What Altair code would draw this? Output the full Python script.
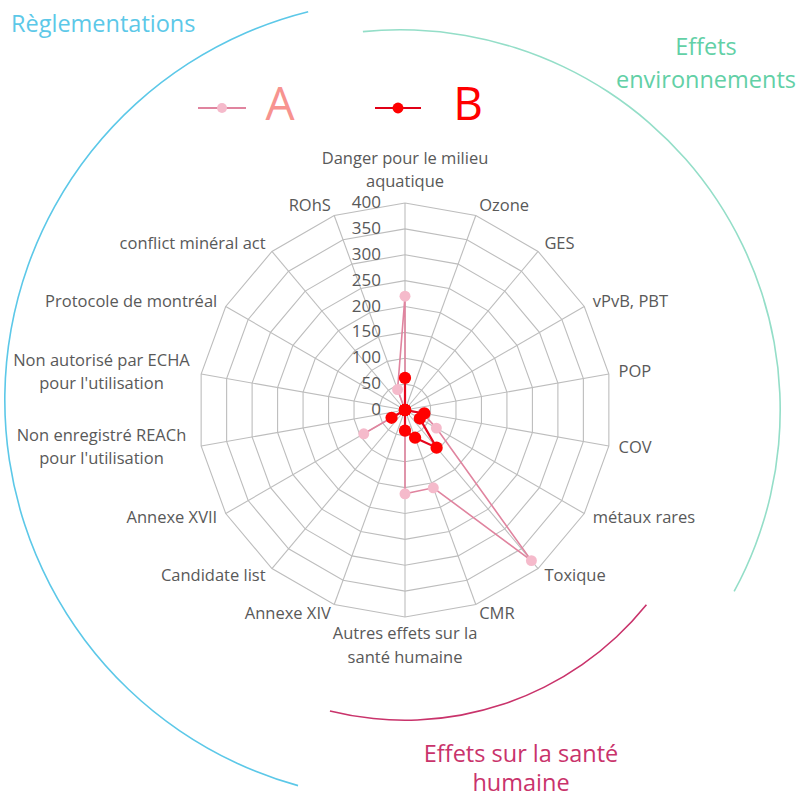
import math
import altair as alt
import pandas as pd

# Axes of the radar, clockwise from the top
categories = [
    "Danger pour le milieu\naquatique", "Ozone", "GES", "vPvB, PBT", "POP", "COV",
    "métaux rares", "Toxique", "CMR", "Autres effets sur la\nsanté humaine",
    "Annexe XIV", "Candidate list", "Annexe XVII",
    "Non enregistré REACh\npour l'utilisation", "Non autorisé par ECHA\npour l'utilisation",
    "Protocole de montréal", "conflict minéral act", "ROhS",
]
values_a = [220, 0, 0, 0, 0, 35, 70, 380, 160, 162, 0, 0, 92, 0, 0, 0, 0, 42]
values_b = [62, 0, 0, 0, 0, 38, 33, 95, 57, 40, 0, 0, 30, 0, 0, 0, 0, 0]
series_names = ["A", "B"]
ring_levels = [50, 100, 150, 200, 250, 300, 350, 400]
tick_values = [0, 50, 100, 150, 200, 250, 300, 350, 400]
tick_labels = ["0", "50", "100", "150", "200", "250", "300", "350", "400"]
group_titles = ["Règlementations", "Effets\nenvironnements", "Effets sur la santé\nhumaine"]

N = len(categories)
W, H = 800, 799
CX, CY = 405, 410          # pixel centre of the radar
RPX = 207                  # pixel radius of the 400 ring
K = RPX / 400.0
XDOM = [-CX / K, (W - CX) / K]
YDOM = [-(H - CY) / K, CY / K]

FONT = "Open Sans"
GREY = "#595959"
GRID = "#BDBDBD"
PINK_LINE, PINK_DOT = "#E0849F", "#F5BACB"
RED_LINE, RED_DOT = "#E5061E", "#FF0000"
LAB_SIZE, LAB_LH = 16.5, 23
TITLE_SIZE = 23.5

xs = alt.Scale(domain=XDOM, nice=False, zero=False)
ys = alt.Scale(domain=YDOM, nice=False, zero=False)
X = lambda f: alt.X(f, type="quantitative", scale=xs, axis=None)
Y = lambda f: alt.Y(f, type="quantitative", scale=ys, axis=None)

# long tables built from the arrays above
rows = []
for name, vals in zip(series_names, [values_a, values_b]):
    for i in range(N + 1):
        rows.append({"series": name, "idx": i, "value": vals[i % N]})
series_df = pd.DataFrame(rows)

ring_df = pd.DataFrame([{"level": lv, "idx": i} for lv in ring_levels for i in range(N + 1)])
axis_df = pd.DataFrame({"idx": list(range(N)), "label": categories})
tick_df = pd.DataFrame({"value": tick_values, "label": tick_labels})

ANG = f"datum.idx * 2 * PI / {N}"

rings = alt.Chart(ring_df).transform_calculate(
    px=f"datum.level * sin({ANG})", py=f"datum.level * cos({ANG})"
).mark_line(color=GRID, strokeWidth=1.1).encode(
    x=X("px:Q"), y=Y("py:Q"), detail="level:N", order="idx:Q"
)

spokes = alt.Chart(axis_df).transform_calculate(
    zero="0", ex=f"400 * sin({ANG})", ey=f"400 * cos({ANG})"
).mark_rule(color=GRID, strokeWidth=1.1).encode(
    x=X("zero:Q"), y=Y("zero:Q"), x2="ex:Q", y2="ey:Q"
)

def series_layers(name, line_col, dot_col, lw, size):
    base = alt.Chart(series_df).transform_filter(
        alt.datum.series == name
    ).transform_calculate(
        px=f"datum.value * sin({ANG})", py=f"datum.value * cos({ANG})"
    )
    line = base.mark_line(color=line_col, strokeWidth=lw).encode(
        x=X("px:Q"), y=Y("py:Q"), order="idx:Q"
    )
    pts = base.transform_filter(alt.datum.idx < N).mark_point(
        filled=True, color=dot_col, size=size, opacity=1
    ).encode(x=X("px:Q"), y=Y("py:Q"))
    return [line, pts]

# category labels placed just beyond the outer ring
LR = 419
lab = alt.Chart(axis_df).transform_calculate(
    lx=f"{LR} * sin({ANG})", ly=f"{LR} * cos({ANG})", s=f"sin({ANG})"
)
lab_style = dict(font=FONT, fontSize=LAB_SIZE, color=GREY, lineBreak="\n", lineHeight=LAB_LH)
enc = dict(x=X("lx:Q"), y=Y("ly:Q"), text="label:N")
lab_right = lab.transform_filter("datum.s > 0.1").mark_text(
    align="left", baseline="middle", **lab_style).encode(**enc)
lab_left = lab.transform_filter("datum.s < -0.1 && datum.s > -0.95").mark_text(
    align="right", baseline="middle", **lab_style).encode(**enc)
# two-line labels on the left: centred lines, block ending at the spoke
lab_left2 = lab.transform_filter("datum.s <= -0.95").mark_text(
    align="center", baseline="middle", dx=-90, dy=-LAB_LH / 2, **lab_style).encode(**enc)
lab_top = lab.transform_filter("abs(datum.s) <= 0.1 && datum.idx == 0").mark_text(
    align="center", baseline="bottom", dy=-3 - LAB_LH, **lab_style).encode(**enc)
lab_bot = lab.transform_filter("abs(datum.s) <= 0.1 && datum.idx != 0").mark_text(
    align="center", baseline="top", dy=-1, **dict(lab_style, lineHeight=24)).encode(**enc)

ticks = alt.Chart(tick_df).transform_calculate(zero="0").mark_text(
    align="right", baseline="middle", dx=-24, font=FONT, fontSize=17, color=GREY
).encode(x=X("zero:Q"), y=Y("value:Q"), text="label:N")

one = alt.Data(values=[{}])

def arc(cx, cy, r, a0, a1, col, w=1.6):
    return alt.Chart(one).mark_arc(color=col).encode(
        x=alt.value(cx), y=alt.value(cy),
        theta=alt.value(math.radians(a0)), theta2=alt.value(math.radians(a1)),
        radius=alt.value(r), radius2=alt.value(r - w),
    )

def txt(s, x, y, col, size, align="left", lh=None):
    kw = dict(font=FONT, fontSize=size, color=col, align=align, baseline="middle", lineBreak="\n")
    if lh:
        kw["lineHeight"] = lh
    return alt.Chart(one).mark_text(**kw).encode(
        x=alt.value(x), y=alt.value(y), text=alt.value(s)
    )

BLUE, GREEN, MAGENTA = "#5CC8E8", "#94DEC8", "#C9336B"
decor = [
    arc(405, 400, 401, 195.5, 346, BLUE),
    arc(400, 410, 381, 354.4, 478.5, GREEN),
    arc(405, 410, 311, 128.9, 194, MAGENTA),
    txt(group_titles[0], 11, 25, BLUE, TITLE_SIZE),
    txt(group_titles[1], 706, 48, "#62D0A6", TITLE_SIZE, "center", 33),
    txt(group_titles[2], 521, 755, MAGENTA, TITLE_SIZE, "center", 29),
]

def legend_item(x0, x1, col_line, col_dot, size, label, label_x, label_col):
    ln = alt.Chart(one).mark_rule(color=col_line, strokeWidth=2).encode(
        x=alt.value(x0), x2=alt.value(x1), y=alt.value(108)
    )
    dot = alt.Chart(one).mark_point(filled=True, color=col_dot, size=size, opacity=1).encode(
        x=alt.value((x0 + x1) / 2), y=alt.value(108)
    )
    t = txt(label, label_x, 106, label_col, 46, "center")
    return [ln, dot, t]

legend = (legend_item(198, 246, PINK_LINE, PINK_DOT, 100, series_names[0], 280, "#F7938F")
          + legend_item(375, 421, "#E00016", RED_DOT, 120, series_names[1], 468, "#FF0000"))

chart = alt.layer(
    *decor,
    rings, spokes,
    *series_layers("A", PINK_LINE, PINK_DOT, 1.6, 120),
    *series_layers("B", RED_LINE, RED_DOT, 2.2, 150),
    ticks, lab_right, lab_left, lab_left2, lab_top, lab_bot,
    *legend,
).properties(
    width=W, height=H, background="white",
    autosize=alt.AutoSizeParams(type="none"), padding=0,
).configure_view(stroke=None)

chart.save("out.html", embed_options={"renderer": "svg", "actions": False})
